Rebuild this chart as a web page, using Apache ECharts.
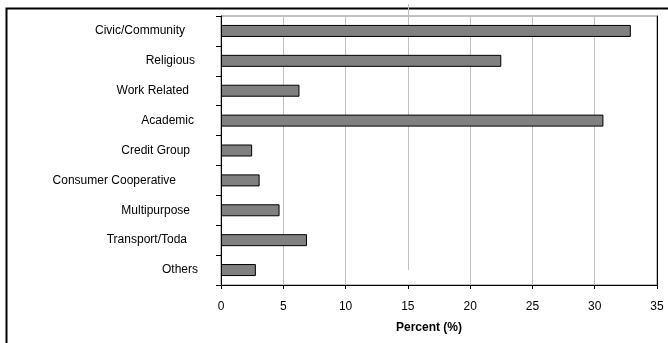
<!DOCTYPE html>
<html>
<head>
<meta charset="utf-8">
<script src="https://cdn.jsdelivr.net/npm/echarts@6/dist/echarts.min.js"></script>
<style>
  html, body { margin: 0; padding: 0; background: #fff; }
  #chart { width: 668px; height: 343px; }
</style>
</head>
<body>
<div id="chart"></div>
<script>
// Membership by organisation type
const categories = [
  'Civic/Community', 'Religious', 'Work Related', 'Academic', 'Credit Group',
  'Consumer Cooperative', 'Multipurpose', 'Transport/Toda', 'Others'
];
const percents = [32.9, 22.5, 6.3, 30.7, 2.5, 3.1, 4.7, 6.9, 2.8];
const axisTitle = 'Percent (%)';

const FONT = '"Liberation Sans", Arial, sans-serif';

// Per-label right padding, growing with the label's width
const measureCtx = document.createElement('canvas').getContext('2d');
measureCtx.font = '12px ' + FONT;
const rich = {};
categories.forEach((c, i) => {
  const w = measureCtx.measureText(c).width;
  rich['c' + i] = {
    fontFamily: FONT, fontSize: 12, color: '#000',
    padding: [0, Math.max(0, Math.round(0.25 * (w - 33))), 0, 0]
  };
});

const chart = echarts.init(document.getElementById('chart'));
chart.setOption({
  animation: false,
  backgroundColor: '#fff',
  grid: {
    left: 221, right: 11, top: 16, bottom: 58,
    show: true, borderColor: '#808080', borderWidth: 1
  },
  xAxis: {
    type: 'value', min: 0, max: 35, interval: 5,
    name: axisTitle, nameLocation: 'middle', nameGap: 37,
    nameTextStyle: {
      fontFamily: FONT, fontSize: 12, fontWeight: 'bold', color: '#000',
      padding: [0, 20, 0, 0]
    },
    axisLine: { show: true, lineStyle: { color: '#000', width: 1 } },
    axisTick: { show: true, length: 4, lineStyle: { color: '#000' } },
    axisLabel: { fontFamily: FONT, fontSize: 12, color: '#000', margin: 16 },
    splitLine: {
      show: true,
      lineStyle: {
        color: ['#c0c0c0', '#c0c0c0', '#c0c0c0', 'rgba(0,0,0,0)',
                '#c0c0c0', '#c0c0c0', '#c0c0c0', '#c0c0c0'],
        width: 1
      }
    }
  },
  yAxis: [{
    type: 'category', data: categories, inverse: true,
    axisLine: { show: true, lineStyle: { color: '#000', width: 1 } },
    axisTick: { show: true, length: 5, lineStyle: { color: '#000' } },
    axisLabel: {
      margin: 22, align: 'right',
      formatter: (v, i) => '{c' + i + '|' + v + '}',
      rich
    },
    splitLine: { show: false }
  }, {
    type: 'category', data: categories, inverse: true, position: 'right',
    axisLine: { show: true, lineStyle: { color: '#000', width: 1 } },
    axisTick: { show: false }, axisLabel: { show: false },
    splitLine: { show: false }
  }],
  series: [{
    type: 'bar',
    data: percents,
    barWidth: 12,
    itemStyle: { color: '#808080', borderColor: '#000', borderWidth: 1 }
  }]
});

// Outer frame and the shifted gridline at 15
const x15 = chart.convertToPixel({ xAxisIndex: 0 }, 15);
chart.setOption({
  graphic: [
    {
      type: 'rect', silent: true,
      shape: { x: 6.5, y: 8.5, width: 700, height: 400 },
      style: { fill: 'none', stroke: '#000', lineWidth: 2 }
    },
    {
      type: 'line', silent: true,
      shape: { x1: Math.round(x15) + 0.5, y1: 4, x2: Math.round(x15) + 0.5, y2: 270 },
      style: { stroke: '#c0c0c0', lineWidth: 1 }
    }
  ]
});
</script>
</body>
</html>
